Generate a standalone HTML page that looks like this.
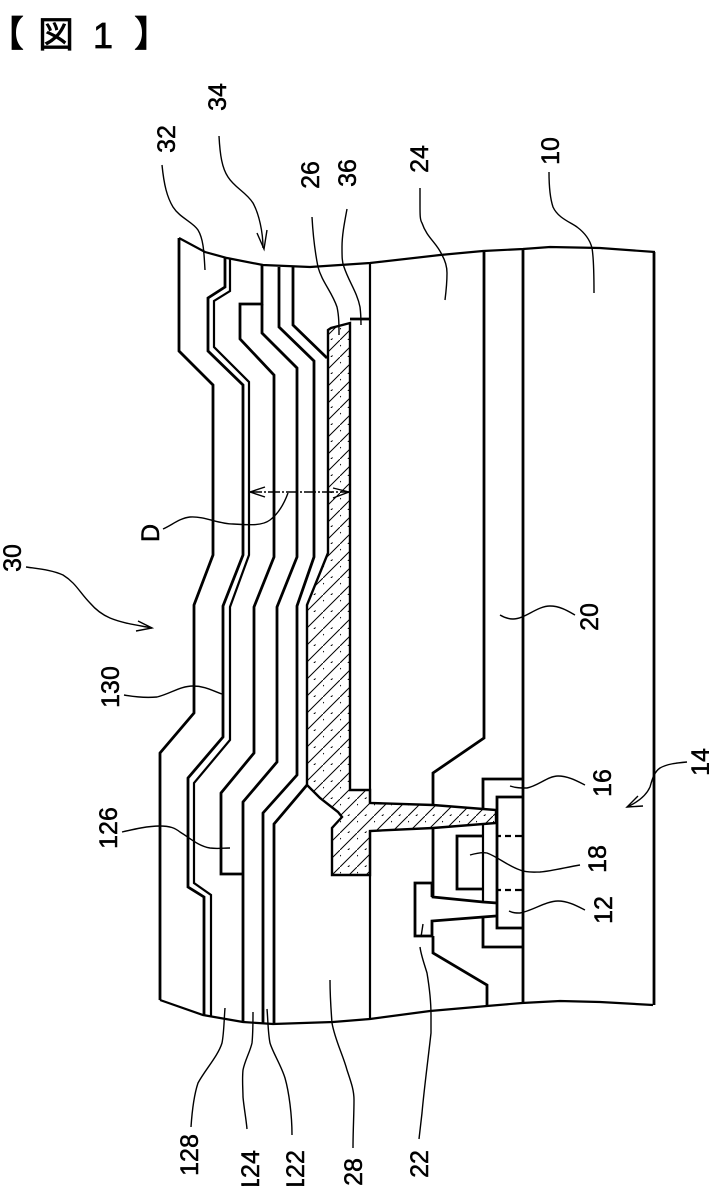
<!DOCTYPE html>
<html><head><meta charset="utf-8"><style>
html,body{margin:0;padding:0;background:#fff}
svg{display:block}
.t{fill:none;stroke:#000;stroke-width:2.8;stroke-linejoin:miter}
.m{fill:none;stroke:#000;stroke-width:2.2}
.l{fill:none;stroke:#000;stroke-width:1.4}
text{font-family:"Liberation Sans",Arial,sans-serif;font-size:25px;fill:#000;stroke:#000;stroke-width:.5;text-anchor:middle}
.h{font-family:"Liberation Sans","Noto Sans CJK JP",sans-serif;font-size:36px;text-anchor:start;stroke-width:.7}
</style></head><body>
<svg width="709" height="1186" viewBox="0 0 709 1186" xmlns="http://www.w3.org/2000/svg">
<defs>
<pattern id="hp" width="17" height="17" patternUnits="userSpaceOnUse">
<path d="M-1 18L18 -1" stroke="#000" stroke-width="1" fill="none"/>
<path d="M6 19L19 6" stroke="#000" stroke-width="1" fill="none" stroke-dasharray="5 12"/>
<path d="M-2 8L8 -2" stroke="#000" stroke-width="1.1" fill="none" stroke-dasharray="4 10"/>
</pattern>
</defs>
<rect width="709" height="1186" fill="#fff"/>

<!-- title -->
<text class="h" x="-12" y="46">【</text>
<text class="h" x="38" y="47">図</text>
<text class="h" x="93" y="48">1</text>
<text class="h" x="134" y="46">】</text>

<!-- hatched region -->
<path d="M328 553V330L331 328L350 323V790H370V803L433 805L496 810V823L433 828L370 831V875H332V828L342 817L338 812L320 798L307 785V605Z" fill="url(#hp)" stroke="#000" stroke-width="2.4"/>

<!-- top and bottom break curves -->
<path class="m" d="M179 238L205 252L227 258L263 265L310 267L370 263L440 255L483 251L523 249L550 247L600 248L655 252"/>
<path class="m" d="M160 1000L203 1015L243 1022L273 1024L333 1022L370 1019L430 1011L487 1006L522 1003L560 1001L600 1002L653 1005"/>

<!-- layer lines -->
<path class="t" d="M179 238V351L213 385V555L194 605V713L160 753V1000"/>
<path class="t" d="M225 258V287L208 298V351L243 385V555L223 606V737L188 778V887L204 897V1015"/>
<path class="m" d="M230 259V291L214 301V347L249 382V555L230 607V740L194 783V883L211 895V1017"/>
<path class="t" d="M262 265V304H240V339L274 375V557L254 607V753L221 793V874H243"/>
<path class="t" d="M262 304V333L297 368V557L277 607V762L243 802V1022"/>
<path class="t" d="M279 267V327L314 361V557L297 606V775L263 813V1023"/>
<path class="t" d="M293 267V325L327 358"/>
<path class="t" d="M307 785L274 824V1023"/>

<!-- 36 box and lines -->
<path class="t" d="M350 319H370"/>
<path class="m" d="M370 263V803M370 831V1019"/>
<path class="t" d="M484 251V738L433 773V805"/>
<path class="t" d="M523 249V1003"/>
<path class="t" d="M654 252V1005"/>

<!-- device region -->
<path class="t" d="M483 808V779H522"/>
<path class="t" d="M522 797H497V928H522"/>
<path class="m" d="M497 836h4m4 0h6m4 0h7M497 890h4m4 0h6m4 0h7"/>
<path class="t" d="M433 828V897L483 902L497 903"/>
<path class="m" d="M483 824V902"/>
<path class="t" d="M483 836H457V889H483"/>
<path class="t" d="M432 883H415V936H432V921L483 917L496 916"/>
<path class="t" d="M432 883V897"/>
<path class="t" d="M483 917V947H522"/>
<path class="t" d="M433 936V953L487 985V1006"/>

<!-- D arrow -->
<path class="l" d="M250 492H349" stroke-dasharray="12 2 2 2"/>
<path class="l" d="M265 487L250 492L265 497M333 488L349 492L333 498"/>

<!-- leaders -->
<path class="l" d="M162 165C164 185 167 197 173 207C180 218 193 222 198 230C204 240 204 255 205 270"/>
<path class="l" d="M219 136C220 155 222 168 228 177C235 188 246 192 253 203C259 214 263 232 263 248"/>
<path class="l" d="M257 233L264 249L267 230"/>
<path class="l" d="M312 217C313 235 315 252 318 267C322 282 332 292 337 307C339 316 339 325 339 335"/>
<path class="l" d="M347 209C344 225 342 236 342 247C342 257 342 262 344 267C349 282 357 292 360 307C361 315 361 320 361 325"/>
<path class="l" d="M420 188V205C420 215 420 220 422 223C427 238 437 243 442 255C446 262 447 268 447 273C447 283 446 292 445 300"/>
<path class="l" d="M549 172C549 185 550 198 553 207C558 218 570 222 577 227C585 233 590 240 592 248C594 260 594 278 594 293"/>
<path class="l" d="M26 567C40 569 52 570 63 575C76 583 80 593 90 603C96 610 103 615 110 618C122 623 136 625 152 628"/>
<path class="l" d="M138 621L152 628L136 631"/>
<path class="l" d="M163 529C172 525 180 518 190 517C205 516 218 524 233 524C250 525 262 526 270 520C278 514 284 504 288 493"/>
<path class="l" d="M124 695C135 697 146 698 157 697C170 694 180 686 193 686C205 686 213 691 222 694"/>
<path class="l" d="M122 832C135 829 148 826 160 826C170 826 175 828 180 832C190 838 198 846 210 848C217 849 224 848 230 848"/>
<path class="l" d="M225 1008C224 1020 224 1033 222 1043C218 1056 205 1070 198 1083C194 1095 192 1112 191 1127"/>
<path class="l" d="M253 1012C253 1022 253 1033 252 1043C250 1052 245 1060 243 1070C242 1080 243 1090 243 1097C244 1108 246 1118 247 1129"/>
<path class="l" d="M267 1009C268 1020 268 1033 270 1043C273 1053 281 1065 285 1078C289 1092 292 1115 292 1135"/>
<path class="l" d="M330 980C330 995 331 1010 332 1023C335 1040 343 1055 347 1070C351 1082 354 1090 354 1100C354 1115 353 1130 353 1148"/>
<path class="l" d="M423 924L421 937M420 947C421 955 424 963 427 973C429 985 431 1000 431 1015C431 1030 431 1033 431 1033C428 1060 424 1090 422 1113L419 1139"/>
<path class="l" d="M500 615C505 618 509 619 513 619C525 619 537 606 550 606C560 606 568 611 575 615"/>
<path class="l" d="M510 786C516 788 521 788 527 788C538 786 548 776 558 776C568 776 577 781 585 785"/>
<path class="l" d="M470 855C477 853 482 852 487 853C498 857 508 866 520 870C527 873 535 872 540 872C553 871 567 867 580 865"/>
<path class="l" d="M509 911C513 913 516 913 520 913C532 911 546 901 558 901C568 901 577 906 585 910"/>
<path class="l" d="M687 762C676 763 667 764 660 768C654 772 652 780 650 787C646 796 638 802 627 807"/>
<path class="l" d="M638 796L627 807L643 806"/>

<!-- labels -->
<g>
<text transform="translate(166,139) rotate(-90)" y="9">32</text>
<text transform="translate(217,97) rotate(-90)" y="9">34</text>
<text transform="translate(310,175) rotate(-90)" y="9">26</text>
<text transform="translate(347,173) rotate(-90)" y="9">36</text>
<text transform="translate(419,159) rotate(-90)" y="9">24</text>
<text transform="translate(550,151) rotate(-90)" y="9">10</text>
<text transform="translate(12,558) rotate(-90)" y="9">30</text>
<text transform="translate(150,533) rotate(-90)" y="9">D</text>
<text transform="translate(110,687) rotate(-90)" y="9">130</text>
<text transform="translate(108,828) rotate(-90)" y="9">126</text>
<text transform="translate(589,617) rotate(-90)" y="9">20</text>
<text transform="translate(602,783) rotate(-90)" y="9">16</text>
<text transform="translate(700,762) rotate(-90)" y="9">14</text>
<text transform="translate(597,859) rotate(-90)" y="9">18</text>
<text transform="translate(603,910) rotate(-90)" y="9">12</text>
<text transform="translate(189,1155) rotate(-90)" y="9">128</text>
<text transform="translate(250,1171) rotate(-90)" y="9">124</text>
<text transform="translate(295,1171) rotate(-90)" y="9">122</text>
<text transform="translate(353,1172) rotate(-90)" y="9">28</text>
<text transform="translate(419,1164) rotate(-90)" y="9">22</text>
</g>
</svg>
</body></html>
